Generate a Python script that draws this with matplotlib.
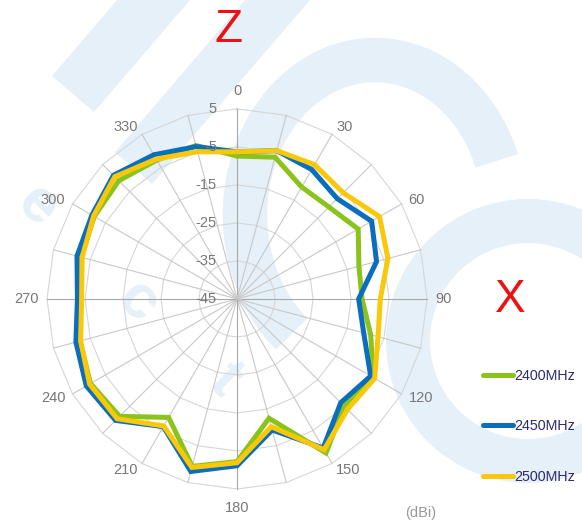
import numpy as np
import matplotlib.pyplot as plt
from matplotlib.patches import Polygon, Arc, Wedge

# azimuth (deg) and gain (dBi)
angles = list(range(0, 360, 15))
gain_2400 = [-7.4, -6.4, -11.0, -10.8, -8.2, -11.8, -12.1, -8.6, -3.6, -5.1, 1.8, -12.5,
             -2.2, 0.6, -9.0, -1.3, -0.5, -2.2, -3.8, -2.6, -1.6, -1.0, -2.8, -3.2]
gain_2450 = [-6.3, -4.6, -5.7, -7.7, -4.1, -7.0, -13.0, -10.5, -4.4, -6.4, 0.3, -9.3,
             -1.1, 2.0, -6.2, 0.2, 0.8, -1.1, -3.0, -1.4, -0.9, 1.0, -1.2, -3.5]
gain_2500 = [-6.3, -4.6, -4.2, -5.5, -1.7, -3.9, -7.3, -6.6, -3.2, -3.9, 0.8, -10.2,
             -1.9, 0.9, -6.4, -0.4, -0.2, -2.4, -4.1, -2.8, -1.4, 0.5, -2.5, -4.9]
series_names = ['2400MHz', '2450MHz', '2500MHz']
series_colors = ['#8cc21c', '#0a6ebd', '#fac80a']

r_min, r_max = -45, 5
ring_levels = [-35, -25, -15, -5, 5]
radial_labels = [5, -5, -15, -25, -35, -45]
angle_labels = list(range(0, 360, 30))

plt.rcParams['font.family'] = ['Liberation Sans', 'DejaVu Sans']

fig = plt.figure(figsize=(5.82, 5.25), dpi=100)

# faint logo watermark in the background (pixel coordinates)
wm = '#e6f0f8'
bg = fig.add_axes([0, 0, 1, 1])
bg.set_xlim(0, 582)
bg.set_ylim(525, 0)
bg.axis('off')
bg.add_patch(Polygon([(117, 0), (190, 0), (94, 112), (52, 76)], color=wm, lw=0))
bg.add_patch(Polygon([(245, 0), (310, 0), (152, 184), (115, 152)], color=wm, lw=0))
bg.add_patch(Arc((375, 215), 260, 310, theta1=125, theta2=336, color=wm, lw=32))
bg.add_patch(Wedge((528, 341), 142, 0, 360, width=44, color=wm, lw=0))
for ch, x, y in [('e', 37, 207), ('c', 137, 303), ('t', 225, 380)]:
    bg.text(x, y, ch, color=wm, fontsize=44, fontweight='bold', rotation=-45,
            ha='center', va='center')

ax = fig.add_axes([0.0808, 0.0686, 0.653, 0.724], projection='polar')
ax.set_theta_zero_location('N')
ax.set_theta_direction(-1)
ax.set_ylim(r_min, r_max)
ax.grid(False)
ax.set_xticks([])
ax.set_yticks([])
ax.spines['polar'].set_visible(False)
ax.patch.set_alpha(0)

# polygon grid
th = np.deg2rad(np.arange(0, 361, 15))
for lvl in ring_levels:
    ax.plot(th, [lvl] * len(th), color='#d6d6d6', lw=0.8, clip_on=False, zorder=1)
for a in range(0, 360, 15):
    c = '#a8a8a8' if a % 90 == 0 else '#c8c8c8'
    ax.plot([np.deg2rad(a)] * 2, [r_min, r_max], color=c, lw=0.8, clip_on=False, zorder=1)

# data
th_closed = np.deg2rad(angles + [angles[0]])
for name, vals, col in zip(series_names, [gain_2400, gain_2450, gain_2500], series_colors):
    ax.plot(th_closed, vals + [vals[0]], color=col, lw=3.6, label=name,
            solid_joinstyle='miter', solid_capstyle='round', zorder=3)

# labels
for a in angle_labels:
    if a == 0:
        ha, va, r = 'center', 'bottom', 8.0
    elif a == 180:
        ha, va, r = 'center', 'top', 8.3
    else:
        ha, va, r = ('left' if a < 180 else 'right'), 'center', 7.1
    ax.text(np.deg2rad(a), r, str(a), ha=ha, va=va, fontsize=10.5, color='#777777')
for v in radial_labels:
    ax.annotate(str(v), xy=(0, v), xytext=(-14.5, 0), textcoords='offset points',
                ha='right', va='center', fontsize=10.5, color='#777777')

fig.text(228 / 582, 1 - 30 / 525, 'Z', color='#ee1111', fontsize=33, ha='center', va='center')
fig.text(510 / 582, 1 - 300 / 525, 'X', color='#ee1111', fontsize=33, ha='center', va='center')
fig.text(421 / 582, 1 - 513 / 525, '(dBi)', color='#999999', fontsize=10.5, ha='center', va='center')

leg = ax.legend(loc='upper left', bbox_to_anchor=(483 / 582, 1 - 369 / 525),
                bbox_transform=fig.transFigure, frameon=False, fontsize=10.3,
                handlelength=2.1, handletextpad=0.05, labelspacing=2.55, borderpad=0,
                borderaxespad=0)
for t in leg.get_texts():
    t.set_color('#2d2a6e')

fig.savefig('out.png', dpi=100)
